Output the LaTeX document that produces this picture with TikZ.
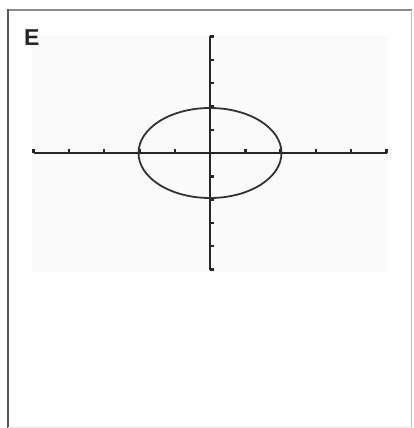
\documentclass[tikz,border=0pt]{standalone}
\usepackage{fontspec}
\newfontfamily\labelfont{Liberation Sans}
\begin{document}
\begin{tikzpicture}[x=1pt,y=-1pt,
  axisline/.style={line width=2.4pt, draw=black!85},
  tickmark/.style={line width=2.4pt, draw=black!85},
  curve/.style={line width=1.8pt, draw=black!80},
  frameleft/.style={line width=2pt, draw=black!65},
  frametop/.style={line width=1.6pt, draw=black!45},
  frameright/.style={line width=1.6pt, draw=black!25}]
\useasboundingbox (0,0) rectangle (413,428);
% faint screen area
\fill[black!1.5] (32,35) rectangle (388,272);
% frame
\draw[frametop] (7,10) -- (412,10);
\draw[frameleft] (8,9) -- (8,428);
\draw[frameright] (411.5,10) -- (411.5,428);
\draw[black!10, line width=0.6pt] (8,427.5) -- (412,427.5);
% label
\node[font=\labelfont\bfseries\fontsize{23}{23}\selectfont, text=black!85, inner sep=0pt, anchor=base west] (lbl) at (24,45.5) {E};
% axes
\coordinate (xl) at (33.5,153);
\coordinate (xr) at (387,153);
\coordinate (yt) at (210,36.5);
\coordinate (yb) at (210,270);
\draw[axisline] (xl) -- (xr);
\draw[axisline] (yt) -- (yb);
% x ticks (above axis)
\foreach \i in {-5,...,5} {
  \draw[tickmark] ({210+35.3*\i},153) -- ({210+35.3*\i},149);
}
% y ticks (right of axis)
\foreach \j in {-5,...,5} {
  \draw[tickmark] (210,{153+23.3*\j}) -- (214,{153+23.3*\j});
}
% ellipse
\draw[curve] (210,153) ellipse [x radius=71.5, y radius=45];
\end{tikzpicture}
\end{document}
